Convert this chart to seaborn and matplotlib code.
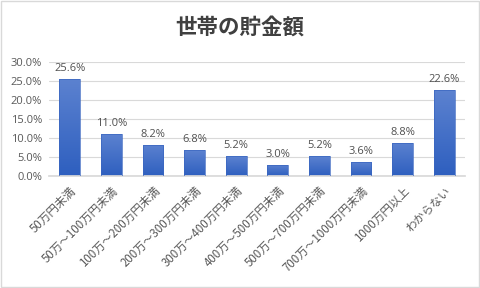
import matplotlib
matplotlib.use("Agg")
import matplotlib.pyplot as plt
import seaborn as sns
import numpy as np
import pandas as pd
from matplotlib.colors import LinearSegmentedColormap
from matplotlib.patches import Rectangle

categories = ["50万円未満", "50万～100万円未満", "100万～200万円未満", "200万～300万円未満",
              "300万～400万円未満", "400万～500万円未満", "500万～700万円未満",
              "700万～1000万円未満", "1000万円以上", "わからない"]
values = [25.6, 11.0, 8.2, 6.8, 5.2, 3.0, 5.2, 3.6, 8.8, 22.6]
yticks = [0, 5, 10, 15, 20, 25, 30]
title = "世帯の貯金額"

sns.set_theme(style="white")
plt.rcParams['font.family'] = ['Noto Sans CJK JP', 'DejaVu Sans']

df = pd.DataFrame({"cat": categories, "val": values})

fig = plt.figure(figsize=(4.8, 2.88), dpi=100)
ax = fig.add_axes([49/480, 1-176/288, 416/480, 114/288])
sns.barplot(data=df, x="cat", y="val", ax=ax, color="#4472C4", width=0.5, saturation=1)

cmap = LinearSegmentedColormap.from_list("g", ["#2E5FBF", "#5C82D0"])
grad = np.linspace(0, 1, 256).reshape(-1, 1)
for p in ax.patches:
    x0, y0, w, h = p.get_x(), p.get_y(), p.get_width(), p.get_height()
    p.set_facecolor("none")
    p.set_edgecolor("none")
    im = ax.imshow(grad, cmap=cmap, extent=[x0, x0 + w, y0, y0 + h], origin="lower",
                   aspect="auto", zorder=2)
    r = Rectangle((x0, y0), w, h, transform=ax.transData, facecolor="none",
                  edgecolor="#3A66C0", linewidth=0.5, zorder=3)
    ax.add_patch(r)
    im.set_clip_path(r)
    ax.text(x0 + w / 2, y0 + h + 1.3, f"{h:.1f}%", ha="center", va="bottom",
            fontsize=8, color="#505050", family=['Open Sans', 'DejaVu Sans'])

ax.set_xlim(-0.5, len(categories) - 0.5)
ax.set_ylim(0, 30)
ax.set_yticks(yticks)
ax.set_yticklabels([f"{t:.1f}%" for t in yticks], fontsize=8, color="#595959",
                   family=['Open Sans', 'DejaVu Sans'])
ax.yaxis.grid(True, color="#D9D9D9", linewidth=0.8)
ax.set_axisbelow(True)
ax.set_xticks(range(len(categories)))
ax.set_xticklabels(categories, rotation=45, ha="right", rotation_mode="anchor",
                   fontsize=8.3, color="#595959")
ax.tick_params(axis="x", length=0, pad=6)
ax.tick_params(axis="y", length=0, pad=5)
ax.set_xlabel("")
ax.set_ylabel("")
for s in ["top", "right", "left"]:
    ax.spines[s].set_visible(False)
ax.spines["bottom"].set_color("#D9D9D9")

fig.text(0.5, 1 - 27/288, title, ha="center", va="center", fontsize=15.5,
         fontweight="bold", color="#404040")
fig.patches.append(Rectangle((0.002, 0.003), 0.996, 0.994, transform=fig.transFigure,
                             facecolor="none", edgecolor="#D9D9D9", linewidth=1))

fig.savefig("out.png", dpi=100)
